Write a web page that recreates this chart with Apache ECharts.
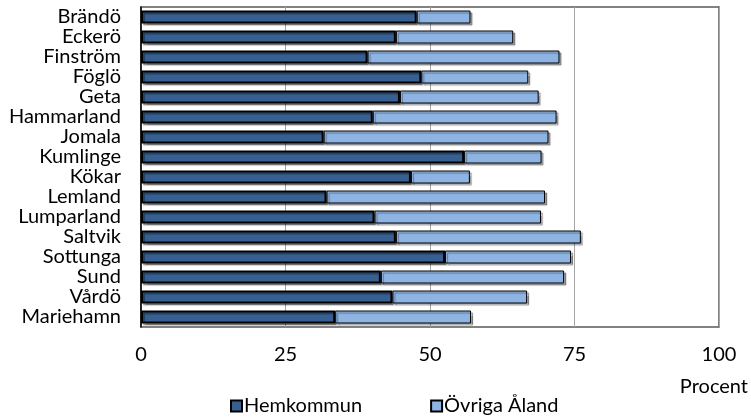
<!DOCTYPE html>
<html>
<head>
<meta charset="utf-8">
<script src="https://cdn.jsdelivr.net/npm/echarts@6/dist/echarts.min.js"></script>
<style>
  html, body { margin: 0; padding: 0; background: #fff; }
  #chart { width: 751px; height: 417px; }
</style>
</head>
<body>
<div id="chart"></div>
<script>
// Kommuner, uppifrån och ned
const kommuner = ['Brändö', 'Eckerö', 'Finström', 'Föglö', 'Geta', 'Hammarland', 'Jomala', 'Kumlinge',
  'Kökar', 'Lemland', 'Lumparland', 'Saltvik', 'Sottunga', 'Sund', 'Vårdö', 'Mariehamn'];
// Andel i hemkommunen (procent)
const hemkommun = [47.7, 44.1, 39.2, 48.5, 44.8, 40.1, 31.6, 55.9, 46.7, 32.1, 40.4, 44.1, 52.6, 41.5, 43.5, 33.6];
// Andel i övriga Åland (procent), staplas efter hemkommun
const ovrigaAland = [9.3, 20.3, 33.2, 18.5, 24.0, 31.8, 38.9, 13.4, 10.2, 37.8, 28.8, 32.0, 21.8, 31.7, 23.3, 23.5];
const xTicks = [0, 25, 50, 75, 100];
const enhet = 'Procent';

const FONT = 'Lato, "Open Sans", sans-serif';
const FS = 20;
const chart = echarts.init(document.getElementById('chart'), null, { renderer: 'canvas' });

chart.setOption({
  animation: false,
  textStyle: { fontFamily: FONT },
  grid: {
    left: 141, right: 32, top: 7, bottom: 90,
    outerBoundsMode: 'none', containLabel: false,
    show: true, borderColor: '#595959', borderWidth: 1.5, backgroundColor: 'transparent'
  },
  // enhetstext under axelns högra ände
  graphic: [{
    type: 'text', right: 3, top: 377,
    style: { text: enhet, font: FS + 'px ' + FONT, fill: '#000' }
  }],
  legend: {
    bottom: 1, left: 230, padding: 0, itemGap: 68,
    itemWidth: 11, itemHeight: 11, icon: 'rect',
    textStyle: { fontFamily: FONT, fontSize: FS, color: '#000', padding: [0, 0, 0, -3] },
    data: ['Hemkommun', 'Övriga Åland']
  },
  xAxis: {
    type: 'value', min: xTicks[0], max: xTicks[xTicks.length - 1], interval: 25,
    axisLine: { show: false }, axisTick: { show: false },
    axisLabel: { fontFamily: FONT, fontSize: FS, color: '#000', margin: 18 },
    splitLine: { show: true, lineStyle: { color: '#a6a6a6', width: 1 } }
  },
  yAxis: {
    type: 'category', data: kommuner, inverse: true,
    axisLine: { show: true, lineStyle: { color: '#000', width: 1.5 } },
    axisTick: { show: false },
    axisLabel: { fontFamily: FONT, fontSize: FS, color: '#000', margin: 20, interval: 0 }
  },
  series: [
    {
      name: 'Hemkommun', type: 'bar', stack: 'andel', barWidth: 13,
      data: hemkommun,
      itemStyle: {
        color: '#376092', borderColor: '#000', borderWidth: 2,
        shadowColor: 'rgba(0,0,0,0.35)', shadowOffsetX: 2, shadowOffsetY: 2, shadowBlur: 1
      }
    },
    {
      name: 'Övriga Åland', type: 'bar', stack: 'andel', barWidth: 13,
      data: ovrigaAland,
      itemStyle: {
        color: '#8EB4E3', borderColor: '#000', borderWidth: 1,
        shadowColor: 'rgba(0,0,0,0.35)', shadowOffsetX: 2, shadowOffsetY: 2, shadowBlur: 1
      }
    }
  ]
});
</script>
</body>
</html>
